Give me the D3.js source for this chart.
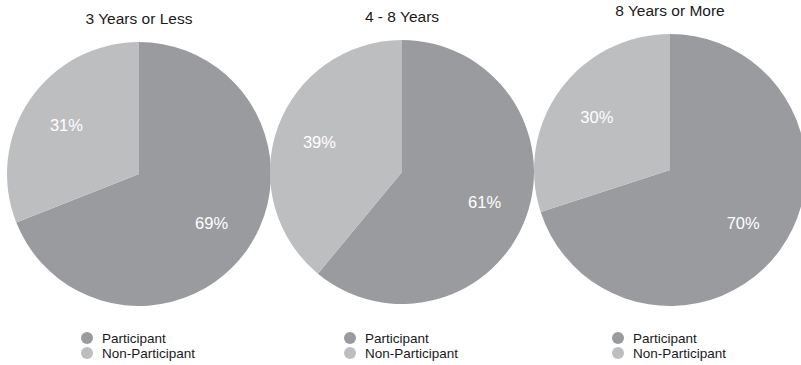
<!DOCTYPE html>
<html lang="en">
  <head>
    <meta charset="UTF-8" />
    <title>Participation by tenure</title>
    <script src="https://d3js.org/d3.v7.min.js"></script>
    <style>
      body { margin: 0; background: #fff; }
      text { font-family: "Liberation Sans", Arial, sans-serif; }
    </style>
  </head>
  <body>
    <svg width="801" height="365"></svg>
    <script>
      const groups = ["3 Years or Less", "4 - 8 Years", "8 Years or More"];
      const categories = ["Participant", "Non-Participant"];
      const participant = [69, 61, 70];
      const nonParticipant = [31, 39, 30];

      // layout of each pie
      const layout = [
        { cx: 139, cy: 174, r: 132 },
        { cx: 402, cy: 172, r: 132 },
        { cx: 670, cy: 170, r: 136 }
      ];

      const color = d3.scaleOrdinal()
        .domain(categories)
        .range(["#9a9b9e", "#bdbec0"]);

      const svg = d3.select("svg");
      const pie = d3.pie().sort(null).value(d => d.value);

      groups.forEach((name, i) => {
        const { cx, cy, r } = layout[i];
        const data = [
          { key: categories[0], value: participant[i] },
          { key: categories[1], value: nonParticipant[i] }
        ];
        const arc = d3.arc().innerRadius(0).outerRadius(r);
        const labelArc = d3.arc().innerRadius(r * 0.665).outerRadius(r * 0.665);

        const g = svg.append("g").attr("transform", `translate(${cx},${cy})`);

        g.selectAll("path")
          .data(pie(data))
          .join("path")
          .attr("fill", d => color(d.data.key))
          .attr("d", arc);

        g.selectAll("text.pct")
          .data(pie(data))
          .join("text")
          .attr("class", "pct")
          .attr("transform", d => `translate(${labelArc.centroid(d)})`)
          .attr("text-anchor", "middle")
          .attr("dy", "0.36em")
          .attr("fill", "#fff")
          .style("font-size", "16.5px")
          .text(d => d.data.value + "%");

        svg.append("text")
          .attr("x", cx)
          .attr("y", cy - r - 18)
          .attr("text-anchor", "middle")
          .attr("fill", "#1a1a1a")
          .style("font-size", "15.5px")
          .text(name);

        const legend = svg.append("g")
          .attr("transform", `translate(${cx - 52},338)`);
        categories.forEach((c, j) => {
          legend.append("circle")
            .attr("cx", 0)
            .attr("cy", j * 15)
            .attr("r", 6)
            .attr("fill", color(c));
          legend.append("text")
            .attr("x", 15)
            .attr("y", j * 15)
            .attr("dy", "0.35em")
            .attr("fill", "#1a1a1a")
            .style("font-size", "13.5px")
            .text(c);
        });
      });
    </script>
  </body>
</html>
